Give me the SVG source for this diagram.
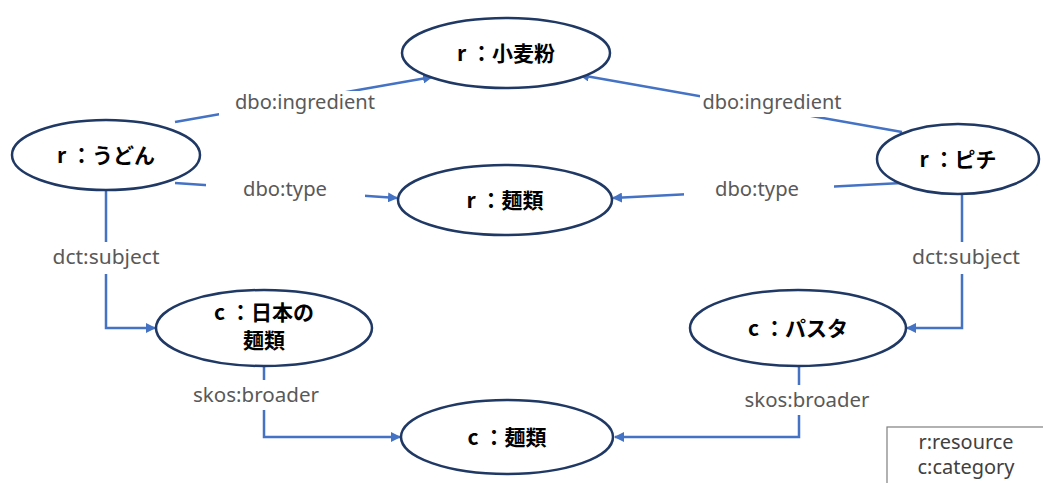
<svg xmlns="http://www.w3.org/2000/svg" width="1043" height="483" viewBox="0 0 1043 483">
<defs>
<marker id="arr" viewBox="0 0 10 10" refX="9" refY="5" markerWidth="4" markerHeight="4" orient="auto" markerUnits="strokeWidth">
<path d="M0,0 L10,5 L0,10 z" fill="#4472C4"/>
</marker>
<style>
.node ellipse{fill:#fff;stroke:#1F3864;stroke-width:2.5}
.node text{font-family:"Noto Sans CJK JP","Noto Sans",sans-serif;font-weight:bold;font-size:21px;fill:#000;text-anchor:middle}
.edge{fill:none;stroke:#4472C4;stroke-width:2.5}
.lbl{font-family:"Noto Sans","Noto Sans CJK JP",sans-serif;font-size:19px;fill:#595959;text-anchor:middle}
.bg{fill:#fff}
.legend text{font-family:"Noto Sans","Noto Sans CJK JP",sans-serif;font-size:19px;fill:#404040;text-anchor:middle}
</style>
</defs>
<rect width="1043" height="483" fill="#fff"/>
<g id="connectors">
<line class="edge" x1="175" y1="122" x2="432" y2="77" marker-end="url(#arr)"/>
<line class="edge" x1="902" y1="132" x2="580" y2="75" marker-end="url(#arr)"/>
<line class="edge" x1="175" y1="183" x2="397" y2="198" marker-end="url(#arr)"/>
<line class="edge" x1="902" y1="183" x2="613" y2="198" marker-end="url(#arr)"/>
<polyline class="edge" points="106,190 106,328 155,328" marker-end="url(#arr)"/>
<polyline class="edge" points="962,195 962,328 907,328" marker-end="url(#arr)"/>
<polyline class="edge" points="264,366 264,437 400,437" marker-end="url(#arr)"/>
<polyline class="edge" points="799,366 799,437 615,437" marker-end="url(#arr)"/>
<rect class="bg" x="219" y="91" width="144" height="26"/>
<text class="lbl" x="305" y="109" textLength="140" lengthAdjust="spacingAndGlyphs">dbo:ingredient</text>
<rect class="bg" x="700" y="89" width="135" height="28"/>
<text class="lbl" x="772" y="109" textLength="139" lengthAdjust="spacingAndGlyphs">dbo:ingredient</text>
<rect class="bg" x="206" y="176" width="159" height="28"/>
<text class="lbl" x="285" y="196" textLength="84" lengthAdjust="spacingAndGlyphs">dbo:type</text>
<rect class="bg" x="684" y="176" width="150" height="28"/>
<text class="lbl" x="757" y="196" textLength="84" lengthAdjust="spacingAndGlyphs">dbo:type</text>
<rect class="bg" x="50" y="242" width="114" height="32"/>
<text class="lbl" x="106" y="264" textLength="107" lengthAdjust="spacingAndGlyphs">dct:subject</text>
<rect class="bg" x="908" y="242" width="116" height="32"/>
<text class="lbl" x="966" y="264" textLength="108" lengthAdjust="spacingAndGlyphs">dct:subject</text>
<rect class="bg" x="190" y="380" width="132" height="30"/>
<text class="lbl" x="256" y="402" textLength="126" lengthAdjust="spacingAndGlyphs">skos:broader</text>
<rect class="bg" x="742" y="385" width="131" height="30"/>
<text class="lbl" x="807" y="407" textLength="125" lengthAdjust="spacingAndGlyphs">skos:broader</text>
</g>
<g id="n-komugiko" class="node"><ellipse cx="506" cy="53" rx="104" ry="35"/><text x="506" y="61">r ：小麦粉</text></g>
<g id="n-udon" class="node"><ellipse cx="106" cy="155" rx="94" ry="35"/><text x="106" y="163">r ：うどん</text></g>
<g id="n-menrui-r" class="node"><ellipse cx="505" cy="200" rx="107" ry="35"/><text x="505" y="208">r ：麺類</text></g>
<g id="n-pici" class="node"><ellipse cx="958" cy="159" rx="81" ry="35"/><text x="958" y="167">r ：ピチ</text></g>
<g id="n-nihon" class="node"><ellipse cx="264" cy="328" rx="108" ry="38"/><text x="264" y="320">c ：日本の</text><text x="264" y="348">麺類</text></g>
<g id="n-pasta" class="node"><ellipse cx="798" cy="328" rx="108" ry="38"/><text x="798" y="336">c ：パスタ</text></g>
<g id="n-menrui-c" class="node"><ellipse cx="507" cy="437" rx="106" ry="37"/><text x="507" y="445">c ：麺類</text></g>
<g id="legend" class="legend">
<rect x="887" y="427" width="160" height="62" fill="#fff" stroke="#7F7F7F" stroke-width="1.2"/>
<text x="966" y="449" textLength="95" lengthAdjust="spacingAndGlyphs">r:resource</text>
<text x="966" y="474" textLength="97" lengthAdjust="spacingAndGlyphs">c:category</text>
</g>
</svg>
